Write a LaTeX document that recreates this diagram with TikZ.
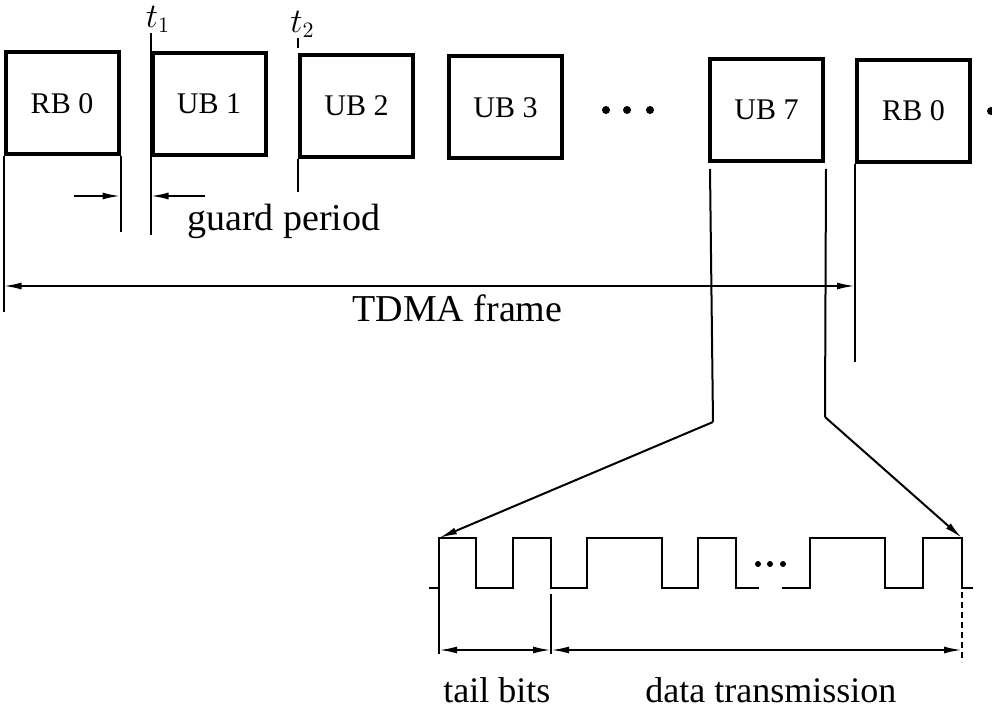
\documentclass[tikz,border=0pt]{standalone}
\usepackage{fontspec}
\setmainfont{Liberation Serif}
\usetikzlibrary{arrows.meta}

\begin{document}
\begin{tikzpicture}[x=0.5pt,y=-0.5pt,
  slot/.style={draw,line width=2pt,minimum width=56.5pt,minimum height=51pt,
    inner sep=0pt,font=\fontsize{15}{17}\selectfont},
  guide/.style={line width=1pt},
  pulse/.style={line width=1.2pt},
  dimline/.style={line width=1pt,{Latex[length=9pt,width=3.5pt]}-{Latex[length=9pt,width=3.5pt]}},
  tip/.style={line width=1pt,-{Latex[length=9pt,width=3.5pt]}},
  lbl/.style={font=\fontsize{18}{20}\selectfont,inner sep=0pt},
  tlbl/.style={font=\fontsize{16}{18}\selectfont,inner sep=0pt,anchor=south west},
  blip/.style={circle,fill,inner sep=0pt,minimum size=4pt}]
\useasboundingbox (0,0) rectangle (992,721);

% slots of one TDMA frame
\foreach \x/\y/\n/\l in
  { 62/103.5/rbA/RB 0,
   209/104/ubA/UB 1,
   356.5/106/ubB/UB 2,
   505.5/107.5/ubC/UB 3,
   766.5/110/ubG/UB 7,
   913.5/111/rbB/RB 0
  }
  \node[slot] (\n) at (\x,\y) {\l};
\foreach \x [count=\i] in {606,627,650}
  \node[blip] (dot\i) at (\x,110) {};
\node[blip] (more) at (991,111) {};

% t1, t2 and the guard period
\draw[guide] ([yshift=9pt]ubA.north west) coordinate (tA) -- ([yshift=-39pt]ubA.south west);
\node[tlbl,xshift=-2.5pt] (tAl) at (tA) {$t_1$};
\draw[guide] ([yshift=2.5pt]ubB.north west) -- ([yshift=7.5pt]ubB.north west) coordinate (tB);
\node[tlbl,xshift=-4pt] (tBl) at (tB) {$t_2$};
\draw[guide] (ubB.south west) -- ([yshift=-16.5pt]ubB.south west);
\draw[guide] (rbA.south east) -- ([yshift=-38pt]rbA.south east);
\coordinate (gA) at (74,196);
\coordinate (gB) at (205,196);
\draw[tip] (gA) -- (gA -| rbA.east);
\draw[tip] (gB) -- (gB -| ubA.west);
\node[lbl,font=\fontsize{19}{21}\selectfont,anchor=base west] (guard) at (187,231) {guard period};

% frame length
\draw[guide] (rbA.south west) -- ++(0,156);
\draw[guide] (rbB.south west) -- ++(0,198);
\draw[dimline] (rbA.south west |- 0,286) -- (rbB.south west |- 0,286);
\node[lbl,font=\fontsize{19}{21}\selectfont,anchor=base west] (frame) at (352,322) {TDMA frame};

% one burst, blown up
\coordinate (kneeA) at (713,422);
\coordinate (kneeB) at (825,417);
\coordinate (bitA) at (439,538);
\coordinate (bitZ) at (962,538);
\draw[guide] ([xshift=1pt,yshift=-3pt]ubG.south west) -- (kneeA);
\draw[guide] ([xshift=0.5pt,yshift=-3pt]ubG.south east) -- (kneeB);
\draw[tip] (kneeA) -- (bitA);
\draw[tip] (kneeB) -- (bitZ);

\draw[pulse] (429,588)
  \foreach \a/\b in {439/476,513/551,587/662,698/736}
    { -- (\a,588) -- (\a,538) -- (\b,538) -- (\b,588) } -- (759,588);
\draw[pulse] (782,588)
  \foreach \a/\b in {810/885,923/962}
    { -- (\a,588) -- (\a,538) -- (\b,538) -- (\b,588) } -- (973,588);
\foreach \x [count=\i] in {758,770,783}
  \node[blip,minimum size=3pt] (gap\i) at (\x,564) {};

% tail bits and data
\coordinate (tailL) at (439,650);
\coordinate (tailR) at (551,650);
\coordinate (dataR) at (962,650);
\draw[guide] (bitA |- 0,588) -- ([yshift=-2pt]tailL);
\draw[guide] (551,594) -- ([yshift=-2pt]tailR);
\draw[guide,densely dashed,line width=0.6pt] (962,592) -- ([yshift=-6pt]dataR);
\draw[dimline] (tailL) -- (tailR);
\draw[dimline] (tailR) -- (dataR);
\node[lbl,anchor=base west] (tail) at (443,703) {tail bits};
\node[lbl,anchor=base west] (data) at (645,703) {data transmission};
\end{tikzpicture}
\end{document}
